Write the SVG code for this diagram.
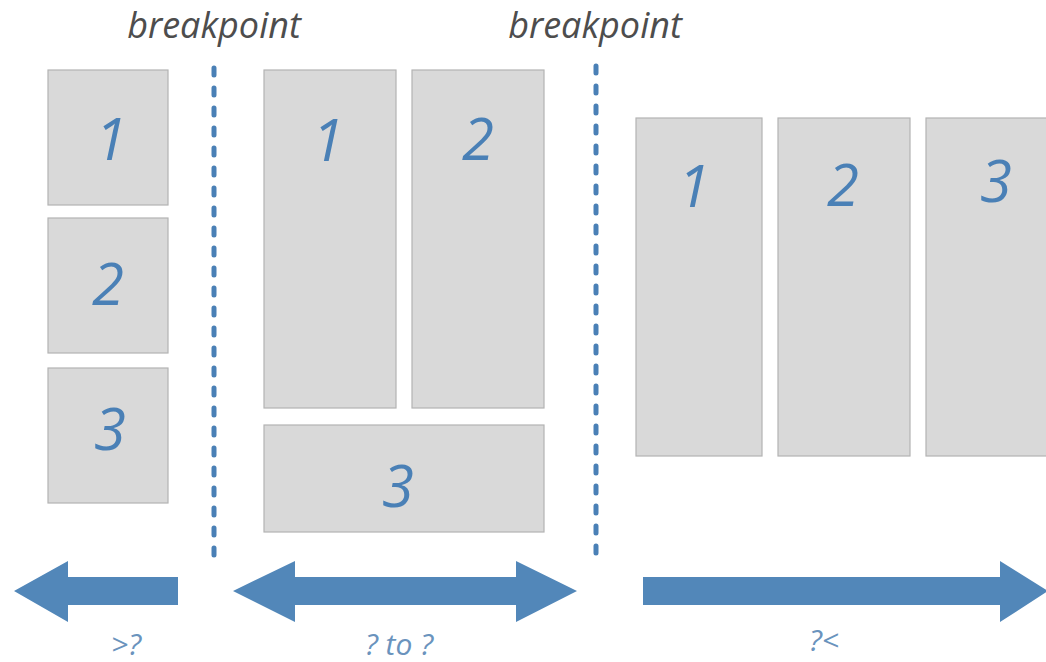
<svg xmlns="http://www.w3.org/2000/svg" width="1046" height="662" viewBox="0 0 1046 662">
<style>
.box{fill:#d9d9d9;stroke:#b3b3b3;stroke-width:1.2}
.num{font-family:"Open Sans","DejaVu Sans",sans-serif;font-weight:400;font-style:italic;font-size:58px;fill:#4a80b6;text-anchor:middle}
.bp{font-family:"Open Sans","DejaVu Sans",sans-serif;font-style:italic;font-size:36px;fill:#4d4d4d;text-anchor:middle}
.lbl{font-family:"Open Sans","DejaVu Sans",sans-serif;font-style:italic;font-size:30px;fill:#6a93bd;text-anchor:middle}
.dots{stroke:#4a80b6;stroke-width:5;stroke-dasharray:7 13;stroke-linecap:round;fill:none}
.arrow{fill:#5287b9}
</style>
<rect width="1046" height="662" fill="#ffffff"/>
<text class="bp" x="214" y="38">breakpoint</text>
<text class="bp" x="595" y="38">breakpoint</text>
<g id="connectors">
<line class="dots" x1="214" y1="68" x2="214" y2="565"/>
<line class="dots" x1="596" y1="66" x2="596" y2="563"/>
<polygon class="arrow" points="14,591 68,561 68,577 178,577 178,605 68,605 68,622"/>
<polygon class="arrow" points="233,591 295,561 295,577 516,577 516,561 577,591 516,622 516,605 295,605 295,622"/>
<polygon class="arrow" points="643,577 1000,577 1000,561 1048,591 1000,622 1000,605 643,605"/>
</g>
<g id="small-1"><rect class="box" x="48" y="70" width="120" height="135"/><text class="num" x="111" y="160">1</text></g>
<g id="small-2"><rect class="box" x="48" y="218" width="120" height="135"/><text class="num" x="108" y="305">2</text></g>
<g id="small-3"><rect class="box" x="48" y="368" width="120" height="135"/><text class="num" x="110" y="450">3</text></g>
<g id="medium-1"><rect class="box" x="264" y="70" width="132" height="338"/><text class="num" x="328" y="161">1</text></g>
<g id="medium-2"><rect class="box" x="412" y="70" width="132" height="338"/><text class="num" x="478" y="160">2</text></g>
<g id="medium-3"><rect class="box" x="264" y="425" width="280" height="107"/><text class="num" x="398" y="507">3</text></g>
<g id="large-1"><rect class="box" x="636" y="118" width="126" height="338"/><text class="num" x="694" y="207">1</text></g>
<g id="large-2"><rect class="box" x="778" y="118" width="132" height="338"/><text class="num" x="843" y="206">2</text></g>
<g id="large-3"><rect class="box" x="926" y="118" width="126" height="338"/><text class="num" x="996" y="202">3</text></g>
<text class="lbl" x="126" y="655">&gt;?</text>
<text class="lbl" x="399" y="655">? to ?</text>
<text class="lbl" x="824" y="651">?&lt;</text>
</svg>
